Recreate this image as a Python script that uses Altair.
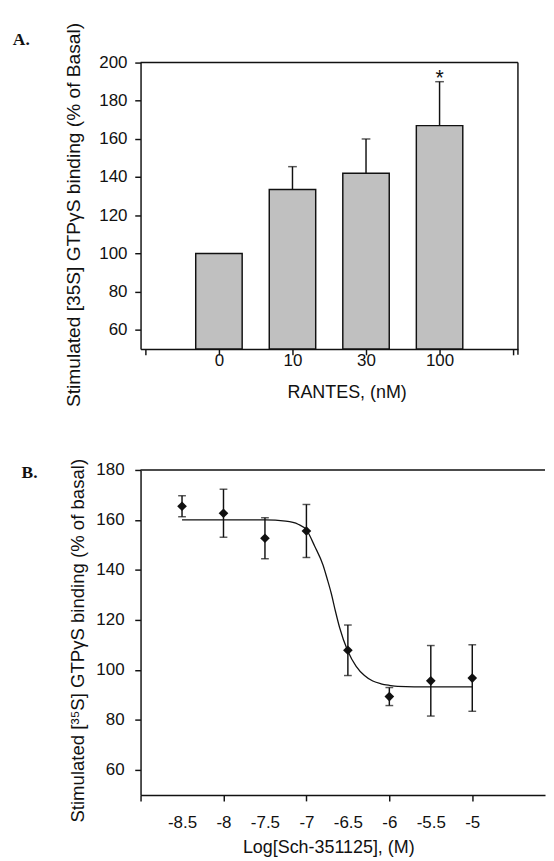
import altair as alt
import pandas as pd

# ---------------- Panel A data ----------------
rantes_labels = ["0", "10", "30", "100"]
rantes_pos = [1, 2, 3, 4]
rantes_mean = [100, 133.5, 142, 167]
rantes_err = [0, 12, 18, 23]
star_flags = ["", "", "", "*"]

# ---------------- Panel B data ----------------
log_conc = [-8.5, -8, -7.5, -7, -6.5, -6, -5.5, -5]
b_mean = [165.5, 162.7, 152.7, 155.6, 107.9, 89.4, 95.7, 96.8]
b_err = [4.2, 9.6, 8.2, 10.6, 10.1, 3.6, 14.1, 13.3]

curve_x = [-8.5, -8.0, -7.5, -7.25, -7.1, -7.0, -6.9, -6.8, -6.75, -6.7,
           -6.65, -6.6, -6.5, -6.4, -6.3, -6.2, -6.1, -6.0, -5.9, -5.5, -5.0]
curve_y = [160, 160, 160, 159.5, 158.3, 156, 149.5, 142, 136.5, 130.6,
           123.5, 117, 107.5, 101.5, 97.8, 95.6, 94.5, 93.9, 93.5, 93.3, 93.3]

FONT = "Liberation Sans"
BLACK = "#111111"


def anchor(x, y):
    # invisible zero-length rule that pins the panel's layout bounds
    return alt.Chart(pd.DataFrame({"k": [0]})).mark_rule(
        color="#ffffff", opacity=0, strokeWidth=1).encode(
        x=alt.value(x), x2=alt.value(x), y=alt.value(y), y2=alt.value(y))


dfA = pd.DataFrame({"pos": rantes_pos, "label": rantes_labels, "mean": rantes_mean,
                    "err": rantes_err, "star": star_flags})
dfA["upper"] = dfA["mean"] + dfA["err"]
dfAerr = dfA[dfA["err"] > 0]
dfAstar = dfA[dfA["star"] != ""]

WA, HA = 390, 296
label_expr_A = " : ".join(
    [f"datum.value == {p} ? '{l}'" for p, l in zip(rantes_pos, rantes_labels)]) + " : ''"

xA = alt.X("pos:Q", scale=alt.Scale(domain=[0, 5], nice=False, zero=False),
           axis=alt.Axis(values=[0, 1, 2, 3, 4, 5], labelExpr=label_expr_A,
                         title="RANTES, (nM)", titleX=213, titleY=35,
                         titleBaseline="top", titleFontSize=18.5,
                         labelBaseline="middle", labelPadding=6))
yA = alt.Y("mean:Q", scale=alt.Scale(domain=[50, 200], nice=False, zero=False),
           axis=alt.Axis(values=[60, 80, 100, 120, 140, 160, 180, 200],
                         title="Stimulated [35S] GTPγS binding (% of Basal)",
                         titleX=-69, titleY=157, titleBaseline="middle",
                         titleFontSize=19.8,
                         titleAngle=270, titleAlign="center", labelPadding=8))

barsA = alt.Chart(dfA).mark_bar(size=48, color="#C0C0C0", stroke=BLACK,
                                strokeWidth=1.5).encode(x=xA, y=yA, y2=alt.datum(50))
errA = alt.Chart(dfAerr).mark_rule(color=BLACK, strokeWidth=1.5).encode(
    x="pos:Q", y="mean:Q", y2="upper:Q")
capA = alt.Chart(dfAerr).mark_tick(orient="horizontal", size=9, thickness=1.5,
                                   color=BLACK).encode(x="pos:Q", y="upper:Q")
starA = alt.Chart(dfAstar).mark_text(fontSize=22, font=FONT, color=BLACK,
                                     baseline="alphabetic", dy=3).encode(
    x="pos:Q", y="upper:Q", text="star:N")
frameA_top = alt.Chart(pd.DataFrame({"k": [0]})).mark_rule(
    color=BLACK, strokeWidth=1.5).encode(x=alt.value(0), x2=alt.value(WA), y=alt.value(0))
frameA_right = alt.Chart(pd.DataFrame({"k": [0]})).mark_rule(
    color=BLACK, strokeWidth=1.5).encode(x=alt.value(WA), y=alt.value(0), y2=alt.value(HA + 6))
labelA = alt.Chart(pd.DataFrame({"t": ["A."]})).mark_text(
    font="Liberation Serif", fontWeight="bold", fontSize=18, align="left",
    baseline="alphabetic", color=BLACK).encode(x=alt.value(-132), y=alt.value(-18), text="t:N")

chartA = alt.layer(barsA, errA, capA, starA, frameA_top, frameA_right, labelA,
                   anchor(-137, -38), anchor(-137, HA + 60)).properties(width=WA, height=HA)

# ---------------- Panel B ----------------
dfB = pd.DataFrame({"x": log_conc, "mean": b_mean, "err": b_err})
dfB["lo"] = dfB["mean"] - dfB["err"]
dfB["hi"] = dfB["mean"] + dfB["err"]
dfCurve = pd.DataFrame({"x": curve_x, "y": curve_y})

WB, HB = 418, 336
xmaxB = -9 + WB / 85.7
xB = alt.X("x:Q", scale=alt.Scale(domain=[-9, xmaxB], nice=False, zero=False),
           axis=alt.Axis(values=[-9, -8.5, -8, -7.5, -7, -6.5, -6, -5.5, -5],
                         labelExpr="datum.value == -9 ? '' : '-' + format(abs(datum.value), '')",
                         tickOpacity={"condition": {"test": "datum.value % 1 === 0", "value": 1},
                                      "value": 0},
                         title="Log[Sch-351125], (M)", titleX=194, titleY=44,
                         titleBaseline="top", titleFontSize=18.5,
                         labelBaseline="middle", labelPadding=23))
yB = alt.Y("mean:Q", scale=alt.Scale(domain=[50, 180], nice=False, zero=False),
           axis=alt.Axis(values=[60, 80, 100, 120, 140, 160, 180],
                         title="Stimulated [³⁵S] GTPγS binding (% of basal)",
                         titleX=-65, titleY=176, titleBaseline="middle",
                         titleFontSize=19.2,
                         titleAngle=270, titleAlign="center", labelPadding=11))

curveB = alt.Chart(dfCurve).mark_line(color=BLACK, strokeWidth=1.3,
                                      interpolate="monotone").encode(
    x=alt.X("x:Q"), y=alt.Y("y:Q"))
errB = alt.Chart(dfB).mark_rule(color=BLACK, strokeWidth=1.5).encode(
    x="x:Q", y="lo:Q", y2="hi:Q")
capBlo = alt.Chart(dfB).mark_tick(orient="horizontal", size=8, thickness=1.5,
                                  color=BLACK).encode(x="x:Q", y="lo:Q")
capBhi = alt.Chart(dfB).mark_tick(orient="horizontal", size=8, thickness=1.5,
                                  color=BLACK).encode(x="x:Q", y="hi:Q")
ptsB = alt.Chart(dfB).mark_point(shape="diamond", filled=True, size=100, color=BLACK,
                                 opacity=1).encode(x=xB, y=yB)
frameB_top = alt.Chart(pd.DataFrame({"k": [0]})).mark_rule(
    color=BLACK, strokeWidth=1.5).encode(x=alt.value(0), x2=alt.value(WB), y=alt.value(0))
labelB = alt.Chart(pd.DataFrame({"t": ["B."]})).mark_text(
    font="Liberation Serif", fontWeight="bold", fontSize=18, align="left",
    baseline="alphabetic", color=BLACK).encode(x=alt.value(-123), y=alt.value(8), text="t:N")

chartB = alt.layer(ptsB, curveB, errB, capBlo, capBhi, frameB_top, labelB,
                   anchor(-128, -20)).properties(width=WB, height=HB)

chart = alt.concat(chartA, chartB, columns=1, spacing=45, align="none").properties(
    padding={"left": 0, "top": 0, "right": 0, "bottom": 0}
).configure_view(stroke=None).configure_axis(
    domainColor=BLACK, domainWidth=1.5, tickColor=BLACK, tickWidth=1.5, tickSize=6,
    labelFont=FONT, labelFontSize=17.5, labelColor=BLACK,
    titleFont=FONT, titleFontSize=19, titleFontWeight="normal", titleColor=BLACK,
    grid=False
).configure_text(font=FONT)

chart.save("out.html", embed_options={"renderer": "svg", "actions": False})
